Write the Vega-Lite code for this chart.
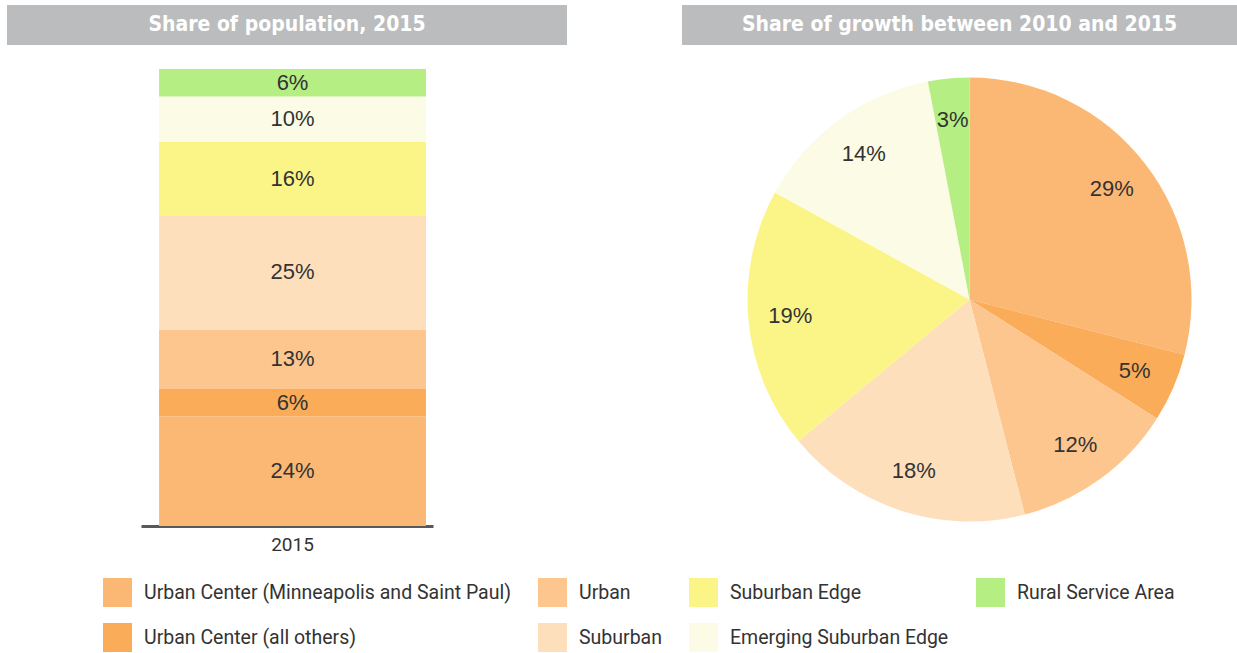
{
  "$schema": "https://vega.github.io/schema/vega-lite/v6.json",
  "padding": {"left": 7, "top": 5, "right": 0, "bottom": 0},
  "background": "white",
  "datasets": {
    "pop": [
      {"cat": "Urban Center (Minneapolis and Saint Paul)", "ord": 1, "year": "2015", "value": 24, "label": "24%"},
      {"cat": "Urban Center (all others)", "ord": 2, "year": "2015", "value": 6, "label": "6%"},
      {"cat": "Urban", "ord": 3, "year": "2015", "value": 13, "label": "13%"},
      {"cat": "Suburban", "ord": 4, "year": "2015", "value": 25, "label": "25%"},
      {"cat": "Suburban Edge", "ord": 5, "year": "2015", "value": 16, "label": "16%"},
      {"cat": "Emerging Suburban Edge", "ord": 6, "year": "2015", "value": 10, "label": "10%"},
      {"cat": "Rural Service Area", "ord": 7, "year": "2015", "value": 6, "label": "6%"}
    ],
    "growth": [
      {"cat": "Urban Center (Minneapolis and Saint Paul)", "ord": 1, "value": 29, "label": "29%"},
      {"cat": "Urban Center (all others)", "ord": 2, "value": 5, "label": "5%"},
      {"cat": "Urban", "ord": 3, "value": 12, "label": "12%"},
      {"cat": "Suburban", "ord": 4, "value": 18, "label": "18%"},
      {"cat": "Suburban Edge", "ord": 5, "value": 19, "label": "19%"},
      {"cat": "Emerging Suburban Edge", "ord": 6, "value": 14, "label": "14%"},
      {"cat": "Rural Service Area", "ord": 7, "value": 3, "label": "3%"}
    ]
  },
  "spacing": 115,
  "hconcat": [
    {
      "vconcat": [
        {
          "width": 560,
          "height": 40,
          "view": {"fill": "#bbbcbe", "stroke": null},
          "data": {"values": [{"t": "Share of population, 2015"}]},
          "mark": {"type": "text", "font": "DejaVu Sans Condensed", "fontWeight": "bold", "fontSize": 21, "color": "white"},
          "encoding": {"text": {"field": "t"}}
        },
        {
          "width": 292,
          "height": 457,
          "data": {"name": "pop"},
          "encoding": {
            "x": {"field": "year", "type": "nominal",
              "scale": {"paddingInner": 0, "paddingOuter": 0.047, "align": 0.72},
              "axis": {"title": null, "ticks": false, "labelAngle": 0, "domainColor": "#58595b", "domainWidth": 3,
                "labelFont": "Roboto", "labelFontSize": 19, "labelColor": "#333333", "labelPadding": 9}},
            "y": {"field": "value", "type": "quantitative", "stack": "zero",
              "scale": {"domain": [0, 100], "nice": false}, "axis": null},
            "order": {"field": "ord", "type": "quantitative"}
          },
          "layer": [
            {
              "mark": {"type": "bar"},
              "encoding": {
                "color": {"field": "cat", "type": "nominal",
                  "scale": {
                    "domain": ["Urban Center (Minneapolis and Saint Paul)", "Urban Center (all others)", "Urban", "Suburban", "Suburban Edge", "Emerging Suburban Edge", "Rural Service Area"],
                    "range": ["#fbb874", "#fbac58", "#fcc68e", "#fddfbc", "#fbf587", "#fcfbe6", "#b5ee83"]
                  }}
              }
            },
            {
              "mark": {"type": "text", "font": "Liberation Sans", "fontSize": 22, "color": "#333333"},
              "encoding": {
                "y": {"field": "value", "type": "quantitative", "stack": "zero", "bandPosition": 0.5},
                "text": {"field": "label"}
              }
            }
          ]
        }
      ],
      "spacing": 24,
      "center": true
    },
    {
      "vconcat": [
        {
          "width": 555,
          "height": 40,
          "view": {"fill": "#bbbcbe", "stroke": null},
          "data": {"values": [{"t": "Share of growth between 2010 and 2015"}]},
          "mark": {"type": "text", "font": "DejaVu Sans Condensed", "fontWeight": "bold", "fontSize": 21, "color": "white"},
          "encoding": {"text": {"field": "t"}}
        },
        {
          "width": 555,
          "height": 461,
          "data": {"name": "growth"},
          "encoding": {
            "theta": {"field": "value", "type": "quantitative", "stack": true},
            "order": {"field": "ord", "type": "quantitative"}
          },
          "layer": [
            {
              "mark": {"type": "arc", "outerRadius": 222, "xOffset": 10},
              "encoding": {"color": {"field": "cat", "type": "nominal"}}
            },
            {
              "mark": {"type": "text", "radius": 180, "xOffset": 10, "font": "Liberation Sans", "fontSize": 22, "color": "#333333"},
              "encoding": {"text": {"field": "label"}}
            }
          ]
        }
      ],
      "spacing": 24,
      "center": true
    }
  ],
  "resolve": {"scale": {"color": "shared"}},
  "config": {
    "view": {"stroke": null},
    "legend": {
      "orient": "none",
      "legendX": 96,
      "legendY": 573,
      "columns": 4,
      "title": null,
      "padding": 0,
      "symbolType": "square",
      "symbolSize": 841,
      "symbolStrokeWidth": 0,
      "symbolOpacity": 1,
      "labelFont": "Roboto",
      "labelFontSize": 19.5,
      "labelColor": "#333333",
      "labelOffset": 12,
      "labelLimit": 500,
      "columnPadding": 27,
      "rowPadding": 16
    }
  }
}
